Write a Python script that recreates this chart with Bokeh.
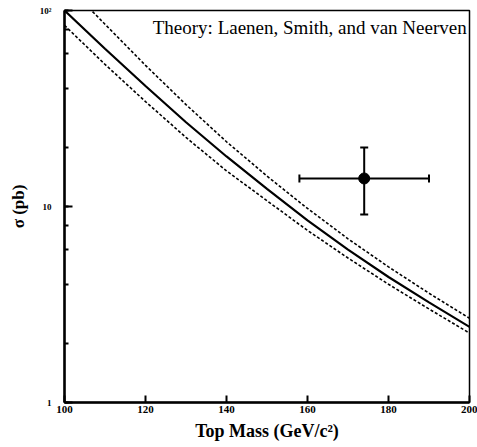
from bokeh.plotting import figure
from bokeh.models import ColumnDataSource, Whisker, Label, FixedTicker, LogTicker
from bokeh.embed import file_html
from bokeh.resources import INLINE

# Theory curves (Laenen, Smith, van Neerven)
mass = [100, 110, 120, 130, 140, 150, 160, 170, 180, 190, 200]
central = [100, 63.8, 41.2, 26.9, 18.0, 12.3, 8.5, 6.03, 4.37, 3.24, 2.43]
upper = [138, 85.1, 52.5, 33.1, 21.4, 14.3, 9.77, 6.84, 4.92, 3.61, 2.69]
lower = [84, 53.1, 34.3, 22.5, 15.2, 10.7, 7.55, 5.46, 4.01, 3.0, 2.26]

# Measurement
meas_mass = [174]
meas_xs = [13.9]
meas_mass_lo = [158]
meas_mass_hi = [190]
meas_xs_lo = [9.1]
meas_xs_hi = [20.0]

x_ticks = [100, 120, 140, 160, 180, 200]
y_tick_labels = {1: "1", 10: "10", 100: "10²"}

FONT = "Liberation Serif"

p = figure(width=477, height=447, y_axis_type="log",
           x_range=(100, 200), y_range=(1, 100),
           output_backend="svg", toolbar_location=None,
           min_border_left=64, min_border_right=8,
           min_border_top=10, min_border_bottom=45)
p.xgrid.visible = False
p.ygrid.visible = False
p.background_fill_color = "white"
p.border_fill_color = "white"
p.outline_line_color = "black"
p.outline_line_width = 1.5

src = ColumnDataSource(dict(m=mass, c=central, u=upper, l=lower))
p.line("m", "u", source=src, line_color="black", line_width=1.6, line_dash="3 2")
p.line("m", "l", source=src, line_color="black", line_width=1.6, line_dash="3 2")
p.line("m", "c", source=src, line_color="black", line_width=2.2)

msrc = ColumnDataSource(dict(x=meas_mass, y=meas_xs, xl=meas_mass_lo, xh=meas_mass_hi,
                             yl=meas_xs_lo, yh=meas_xs_hi))
wv = Whisker(base="x", lower="yl", upper="yh", source=msrc, dimension="height",
             line_color="black", line_width=2)
wh = Whisker(base="y", lower="xl", upper="xh", source=msrc, dimension="width",
             line_color="black", line_width=2)
for w in (wv, wh):
    w.upper_head.size = 8
    w.lower_head.size = 8
    w.upper_head.line_width = 2
    w.lower_head.line_width = 2
    p.add_layout(w)
p.scatter("x", "y", source=msrc, size=11, color="black")

p.add_layout(Label(x=199.3, y=82, text="Theory: Laenen, Smith, and van Neerven",
                   text_align="right", text_baseline="middle",
                   text_font=FONT, text_font_size="19px", text_color="black"))

# X axis
xa = p.xaxis[0]
xa.ticker = FixedTicker(ticks=x_ticks)
xa.axis_line_width = 2.5
xa.axis_line_color = "black"
xa.major_tick_in = 7
xa.major_tick_out = 0
xa.major_tick_line_width = 2
xa.minor_tick_line_color = None
xa.major_label_text_font = FONT
xa.major_label_text_font_style = "bold"
xa.major_label_text_font_size = "11px"
xa.major_label_text_color = "black"
xa.major_label_standoff = 3
xa.axis_label = "Top Mass (GeV/c²)"
xa.axis_label_text_font = FONT
xa.axis_label_text_font_style = "bold"
xa.axis_label_text_font_size = "18px"
xa.axis_label_text_color = "black"
xa.axis_label_standoff = 5

# Y axis
ya = p.yaxis[0]
ya.ticker = LogTicker(desired_num_ticks=3)
ya.major_label_overrides = y_tick_labels
ya.axis_line_width = 2.5
ya.axis_line_color = "black"
ya.major_tick_in = 8
ya.major_tick_out = 0
ya.major_tick_line_width = 2
ya.minor_tick_in = 4
ya.minor_tick_out = 0
ya.minor_tick_line_width = 2
ya.major_label_text_font = FONT
ya.major_label_text_font_style = "bold"
ya.major_label_text_font_size = "9px"
ya.major_label_text_color = "black"
ya.major_label_standoff = 13
ya.axis_label = "σ (pb)"
ya.axis_label_text_font = FONT
ya.axis_label_text_font_style = "bold"
ya.axis_label_text_font_size = "17px"
ya.axis_label_text_color = "black"
ya.axis_label_standoff = 9

open("out.html", "w").write(file_html(p, INLINE))
